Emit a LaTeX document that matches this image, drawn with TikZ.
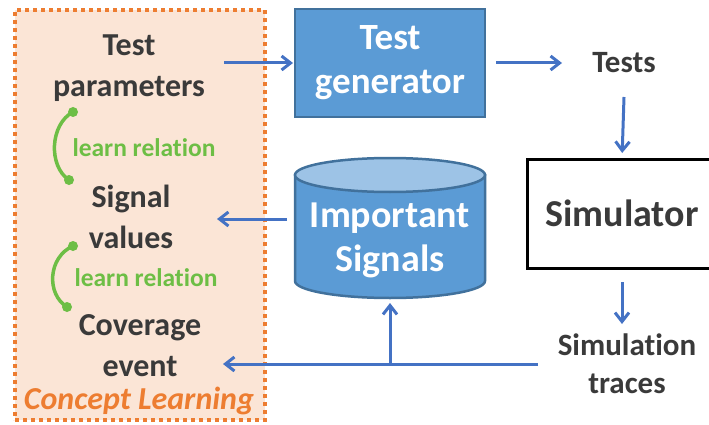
\documentclass[tikz,border=0pt]{standalone}
\usepackage{fontspec}
\setmainfont{Carlito}[Ligatures={NoCommon}]
\usetikzlibrary{arrows.meta}
\definecolor{txt}{HTML}{3A3A3A}
\definecolor{flow}{HTML}{4472C4}
\definecolor{boxfill}{HTML}{5B9BD5}
\definecolor{boxline}{HTML}{41719C}
\definecolor{capfill}{HTML}{9DC3E6}
\definecolor{orng}{HTML}{ED7D31}
\definecolor{peach}{HTML}{FBE5D6}
\definecolor{grn}{HTML}{6DBE45}
\begin{document}
\begin{tikzpicture}[x=1pt,y=-1pt,
  every node/.style={inner sep=0pt,outer sep=0pt,align=center},
  lbl/.style={font=\bfseries\fontsize{32pt}{41pt}\selectfont,text=txt},
  outlbl/.style={font=\bfseries\fontsize{31pt}{38pt}\selectfont,text=txt},
  bluebox/.style={draw=boxline,line width=2.5pt,fill=boxfill,text=white,
    font=\bfseries\fontsize{37pt}{44pt}\selectfont},
  rel/.style={font=\bfseries\fontsize{25.5pt}{30pt}\selectfont,text=grn},
  relarc/.style={draw=grn,line width=3.5pt},
  arr/.style={draw=flow,line width=3pt,-{Straight Barb[length=9pt,width=14pt]}},
  ln/.style={draw=flow,line width=3pt}]
\useasboundingbox (0,0) rectangle (709,425);

% concept-learning panel
\node[draw=orng,fill=peach,line width=4pt,dash pattern=on 4pt off 4pt,
  minimum width=250pt,minimum height=410pt] (cl) at (140,215) {};
\node[font=\bfseries\itshape\fontsize{32pt}{36pt}\selectfont,text=orng] (cltitle) at (139,401) {Concept Learning};

\node[lbl,minimum width=190pt] (tp) at (129,68.5) {Test\\parameters};
\node[lbl,minimum width=172pt] (sv) at (131,216.5) {Signal\\values};
\node[lbl,minimum width=166pt] (ce) at (140,345.5) {Coverage\\event};

% learned relations between the quantities
\coordinate (r1a) at (73,112);
\coordinate (r1b) at (69,180);
\coordinate (r2a) at (73,246);
\coordinate (r2b) at (67,307);
\draw[relarc] (r1a) .. controls (50,124) and (48,166) .. (r1b);
\draw[relarc] (r2a) .. controls (48,257) and (46,294) .. (r2b);
\foreach \p in {r1a,r1b,r2a,r2b} \fill[grn] (\p) circle (5pt);
\node[rel] (rel1) at (144,148) {learn relation};
\node[rel] (rel2) at (146,278) {learn relation};

% test generation and simulation
\node[bluebox,minimum width=190pt,minimum height=108pt] (tg) at (390,63) {Test\\generator};
\node[outlbl,minimum width=124pt,minimum height=68pt] (tests) at (624,63) {Tests};
\node[draw=black,line width=3pt,minimum width=190pt,minimum height=109pt,
  font=\bfseries\fontsize{38pt}{44pt}\selectfont,text=txt] (sim) at (622,213.5) {Simulator};
\node[outlbl,minimum width=178pt,minimum height=80pt] (trace) at (627,364) {Simulat\kern0pt ion\\traces};

% signal store
\node[minimum width=190pt,minimum height=140pt] (sig) at (390,228) {};
\filldraw[fill=boxfill,draw=boxline,line width=2.5pt]
  (295,175) -- (295,281) arc[start angle=180,end angle=360,x radius=95pt,y radius=17pt]
  -- (485,175) -- cycle;
\filldraw[fill=capfill,draw=boxline,line width=2.5pt] (390,175) ellipse[x radius=95pt,y radius=17pt];
\node[text=white,font=\bfseries\fontsize{38pt}{44pt}\selectfont] (siglbl) at (390,240) {Important\\Signals};

% flow
\draw[arr,shorten >=2pt] (tp.east |- tg.west) -- (tg.west);
\draw[arr,shorten <=11pt] (tg.east) -- (tests.west);
\draw[arr,shorten >=6pt] (tests.south) -- (sim.north);
\draw[arr,shorten <=14pt] (sim.south) -- (sim.south |- trace.north);
\draw[arr,shorten <=8pt] ([yshift=9pt]sig.west) -- ([yshift=9pt]sig.west -| sv.east);
\draw[arr] (trace.west) -- (trace.west -| ce.east);
\draw[arr,shorten >=5pt] (trace.west -| sig.south) -- (sig.south);
\end{tikzpicture}
\end{document}
